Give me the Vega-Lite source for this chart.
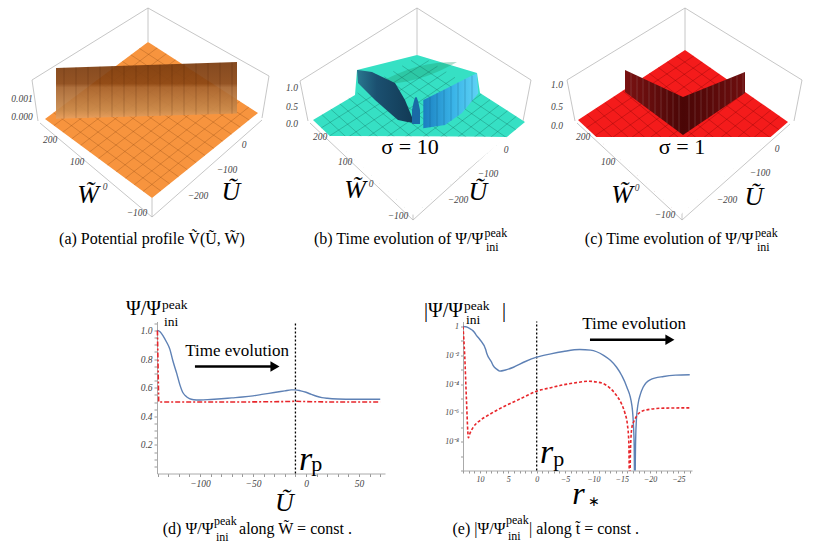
{
  "$schema": "https://vega.github.io/schema/vega-lite/v6.json",
  "padding": 0,
  "background": "white",
  "config": {"view": {"stroke": null}, "font": "Liberation Serif"},
  "datasets": {
    "a_box": [{"x":148,"y":8,"xe":32,"ye":80},{"x":148,"y":8,"xe":269,"ye":76},{"x":148,"y":8,"xe":148,"ye":42},{"x":32,"y":80,"xe":38,"ye":121},{"x":269,"y":76,"xe":262,"ye":118},{"x":40,"y":123,"xe":152,"ye":217},{"x":262,"y":120,"xe":152,"ye":217},{"x":152,"y":198,"xe":152,"ye":217}],
    "a_surf": [{"x":45,"y":119,"yb":119},{"x":148,"y":42,"yb":195.1},{"x":152,"y":44.6,"yb":198},{"x":258,"y":113,"yb":113}],
    "a_mesh": [{"x":53.9,"y":125.6,"xe":157.2,"ye":47.9},{"x":62.8,"y":132.2,"xe":166.3,"ye":53.8},{"x":71.8,"y":138.8,"xe":175.5,"ye":59.8},{"x":80.7,"y":145.3,"xe":184.7,"ye":65.7},{"x":89.6,"y":151.9,"xe":193.8,"ye":71.6},{"x":98.5,"y":158.5,"xe":203,"ye":77.5},{"x":107.4,"y":165.1,"xe":212.2,"ye":83.4},{"x":116.3,"y":171.7,"xe":221.3,"ye":89.3},{"x":125.3,"y":178.3,"xe":230.5,"ye":95.3},{"x":134.2,"y":184.8,"xe":239.7,"ye":101.2},{"x":143.1,"y":191.4,"xe":248.8,"ye":107.1},{"x":53.6,"y":112.6,"xe":160.8,"ye":190.9},{"x":62.2,"y":106.2,"xe":169.7,"ye":183.8},{"x":70.8,"y":99.8,"xe":178.5,"ye":176.8},{"x":79.3,"y":93.3,"xe":187.3,"ye":169.7},{"x":87.9,"y":86.9,"xe":196.2,"ye":162.6},{"x":96.5,"y":80.5,"xe":205,"ye":155.5},{"x":105.1,"y":74.1,"xe":213.8,"ye":148.4},{"x":113.7,"y":67.7,"xe":222.7,"ye":141.3},{"x":122.3,"y":61.3,"xe":231.5,"ye":134.3},{"x":130.8,"y":54.8,"xe":240.3,"ye":127.2},{"x":139.4,"y":48.4,"xe":249.2,"ye":120.1}],
    "a_wall": [{"x":56,"y":68,"yb":118.7},{"x":237,"y":62,"yb":113.6}],
    "a_stripes": [{"x":64,"y":67.7,"xe":64,"ye":118.5},{"x":76,"y":67.3,"xe":76,"ye":118.1},{"x":88,"y":66.9,"xe":88,"ye":117.8},{"x":100,"y":66.5,"xe":100,"ye":117.5},{"x":112,"y":66.1,"xe":112,"ye":117.1},{"x":124,"y":65.7,"xe":124,"ye":116.8},{"x":136,"y":65.4,"xe":136,"ye":116.5},{"x":148,"y":65,"xe":148,"ye":116.1},{"x":160,"y":64.6,"xe":160,"ye":115.8},{"x":172,"y":64.2,"xe":172,"ye":115.5},{"x":184,"y":63.8,"xe":184,"ye":115.1},{"x":196,"y":63.4,"xe":196,"ye":114.8},{"x":208,"y":63,"xe":208,"ye":114.4},{"x":220,"y":62.6,"xe":220,"ye":114.1},{"x":232,"y":62.2,"xe":232,"ye":113.8}],
    "a_ticks": [{"x":22,"y":99,"t":"0.001"},{"x":22,"y":117,"t":"0.000"},{"x":50,"y":140,"t":"200"},{"x":77,"y":162,"t":"100"},{"x":105,"y":187,"t":"0"},{"x":137,"y":213,"t":"−100"},{"x":244,"y":145,"t":"0"},{"x":227,"y":170,"t":"−100"},{"x":198,"y":196,"t":"−200"}],
    "a_letters": [{"x":88,"y":195,"t":"W̃"},{"x":231,"y":192,"t":"Ũ"}],
    "a_cap": [{"x":152,"y":244,"t":"(a) Potential profile Ṽ(Ũ, W̃)"}],

    "b_box": [{"x":145,"y":8,"xe":28,"ye":81},{"x":145,"y":8,"xe":259,"ye":80},{"x":145,"y":8,"xe":145,"ye":55},{"x":28,"y":81,"xe":36,"ye":121},{"x":259,"y":80,"xe":251,"ye":121},{"x":38,"y":123,"xe":141,"ye":220},{"x":247,"y":124,"xe":141,"ye":220},{"x":141,"y":187,"xe":141,"ye":220}],
    "b_surf": [{"x":41,"y":120,"yb":120},{"x":57.8,"y":110,"yb":136},{"x":83,"y":95,"yb":136.2},{"x":85,"y":70,"yb":136.2},{"x":145,"y":55,"yb":136.5},{"x":205,"y":73,"yb":136.8},{"x":208,"y":93,"yb":136.8},{"x":234.9,"y":110.3,"yb":137},{"x":253,"y":122,"yb":122}],
    "b_mesh": [{"x":49.3,"y":127.9,"xe":156.8,"ye":60.6},{"x":57.7,"y":135.8,"xe":165.5,"ye":66.2},{"x":66,"y":143.8,"xe":174.3,"ye":71.8},{"x":74.3,"y":151.7,"xe":183,"ye":77.3},{"x":82.7,"y":159.6,"xe":191.8,"ye":82.9},{"x":91,"y":167.5,"xe":200.5,"ye":88.5},{"x":99.3,"y":175.4,"xe":209.3,"ye":94.1},{"x":107.7,"y":183.3,"xe":218,"ye":99.7},{"x":116,"y":191.3,"xe":226.8,"ye":105.3},{"x":124.3,"y":199.2,"xe":235.5,"ye":110.8},{"x":132.7,"y":207.1,"xe":244.3,"ye":116.4},{"x":49.9,"y":114.6,"xe":150.3,"ye":207.3},{"x":58.8,"y":109.2,"xe":159.7,"ye":199.5},{"x":67.8,"y":103.8,"xe":169,"ye":191.8},{"x":76.7,"y":98.3,"xe":178.3,"ye":184},{"x":85.6,"y":92.9,"xe":187.7,"ye":176.2},{"x":94.5,"y":87.5,"xe":197,"ye":168.5},{"x":103.4,"y":82.1,"xe":206.3,"ye":160.8},{"x":112.3,"y":76.7,"xe":215.7,"ye":153},{"x":121.3,"y":71.3,"xe":225,"ye":145.3},{"x":130.2,"y":65.8,"xe":234.3,"ye":137.5},{"x":139.1,"y":60.4,"xe":243.7,"ye":129.7}],
    "b_mask": [{"x":57.8,"y":136,"yb":136},{"x":141,"y":136.5,"yb":215},{"x":234.9,"y":137,"yb":137}],
    "b_band": [{"x":105,"y":84,"yb":84},{"x":125,"y":74,"yb":83},{"x":165,"y":63,"yb":72},{"x":185,"y":62,"yb":62}],
    "b_ridgeL": [{"x":85,"y":70,"yb":70},{"x":86,"y":70.1,"yb":83},{"x":100,"y":72,"yb":97},{"x":103,"y":73.4,"yb":100},{"x":123,"y":83,"yb":117.4},{"x":126,"y":88.1,"yb":120},{"x":133,"y":100,"yb":121.4},{"x":140,"y":117,"yb":122.8},{"x":141,"y":123,"yb":123}],
    "b_ridgeR": [{"x":151.3,"y":100,"yb":128.3},{"x":173,"y":89.2,"yb":125},{"x":190,"y":80.6,"yb":113},{"x":204.7,"y":73.3,"yb":95.2},{"x":206.3,"y":93.3,"yb":93.3}],
    "b_rstripes": [{"x":158,"y":96.7,"xe":158,"ye":127.3},{"x":165,"y":93.2,"xe":165,"ye":126.2},{"x":172,"y":89.7,"xe":172,"ye":125.2},{"x":179,"y":86.2,"xe":179,"ye":121},{"x":186,"y":82.6,"xe":186,"ye":115.8},{"x":193,"y":79.1,"xe":193,"ye":108.9},{"x":200,"y":75.7,"xe":200,"ye":100.9}],
    "b_bump": [{"x":140,"y":110,"yb":124},{"x":144,"y":97,"yb":124},{"x":148,"y":110,"yb":124}],
    "b_ticks": [{"x":20,"y":88,"t":"1.0"},{"x":20,"y":107,"t":"0.5"},{"x":20,"y":124,"t":"0.0"},{"x":48,"y":137,"t":"200"},{"x":73,"y":162,"t":"100"},{"x":99,"y":184,"t":"0"},{"x":126,"y":216,"t":"−100"},{"x":234,"y":150,"t":"0"},{"x":216,"y":174,"t":"−100"},{"x":186,"y":200,"t":"−200"}],
    "b_letters": [{"x":83,"y":190,"t":"W̃"},{"x":206,"y":192,"t":"Ũ"}],
    "b_sigma": [{"x":138,"y":147,"t":"σ = 10"}],
    "b_cap1": [{"x":211.3,"y":244,"t":"(b) Time evolution of Ψ/Ψ"}],
    "b_cap2": [{"x":212.5,"y":237,"t":"peak"},{"x":214,"y":251,"t":"ini"}],

    "c_box": [{"x":141,"y":8,"xe":23,"ye":80},{"x":141,"y":8,"xe":258,"ye":80},{"x":141,"y":8,"xe":141,"ye":50},{"x":23,"y":80,"xe":31,"ye":121},{"x":258,"y":80,"xe":250,"ye":121},{"x":33,"y":123,"xe":138,"ye":220},{"x":246,"y":124,"xe":138,"ye":220},{"x":138,"y":178,"xe":138,"ye":220}],
    "c_surf": [{"x":34,"y":120,"yb":120},{"x":52.3,"y":108,"yb":137},{"x":141,"y":50,"yb":137},{"x":226.6,"y":109.8,"yb":137},{"x":244,"y":122,"yb":122}],
    "c_mesh": [{"x":42.5,"y":127.9,"xe":149.6,"ye":56},{"x":51,"y":135.8,"xe":158.2,"ye":62},{"x":59.5,"y":143.8,"xe":166.8,"ye":68},{"x":68,"y":151.7,"xe":175.3,"ye":74},{"x":76.5,"y":159.6,"xe":183.9,"ye":80},{"x":85,"y":167.5,"xe":192.5,"ye":86},{"x":93.5,"y":175.4,"xe":201.1,"ye":92},{"x":102,"y":183.3,"xe":209.7,"ye":98},{"x":110.5,"y":191.3,"xe":218.3,"ye":104},{"x":119,"y":199.2,"xe":226.8,"ye":110},{"x":127.5,"y":207.1,"xe":235.4,"ye":116},{"x":42.9,"y":114.2,"xe":145,"ye":207.3},{"x":51.8,"y":108.3,"xe":154,"ye":199.5},{"x":60.8,"y":102.5,"xe":163,"ye":191.8},{"x":69.7,"y":96.7,"xe":172,"ye":184},{"x":78.6,"y":90.8,"xe":181,"ye":176.2},{"x":87.5,"y":85,"xe":190,"ye":168.5},{"x":96.4,"y":79.2,"xe":199,"ye":160.8},{"x":105.3,"y":73.3,"xe":208,"ye":153},{"x":114.3,"y":67.5,"xe":217,"ye":145.3},{"x":123.2,"y":61.7,"xe":226,"ye":137.5},{"x":132.1,"y":55.8,"xe":235,"ye":129.7}],
    "c_mask": [{"x":52.3,"y":137,"yb":137},{"x":136,"y":137,"yb":215},{"x":226.6,"y":137,"yb":137}],
    "c_wallL": [{"x":81,"y":70,"yb":92},{"x":139,"y":97,"yb":135}],
    "c_wallR": [{"x":139,"y":97,"yb":135},{"x":201,"y":72,"yb":93}],
    "c_stripes": [{"x":87,"y":72.8,"xe":87,"ye":96.4},{"x":93,"y":75.6,"xe":93,"ye":100.9},{"x":99,"y":78.4,"xe":99,"ye":105.3},{"x":105,"y":81.2,"xe":105,"ye":109.8},{"x":111,"y":84,"xe":111,"ye":114.2},{"x":117,"y":86.8,"xe":117,"ye":118.7},{"x":123,"y":89.6,"xe":123,"ye":123.1},{"x":129,"y":92.3,"xe":129,"ye":127.6},{"x":135,"y":95.1,"xe":135,"ye":132},{"x":145,"y":94.6,"xe":145,"ye":130.9},{"x":151,"y":92.2,"xe":151,"ye":126.9},{"x":157,"y":89.7,"xe":157,"ye":122.8},{"x":163,"y":87.3,"xe":163,"ye":118.7},{"x":169,"y":84.9,"xe":169,"ye":114.7},{"x":175,"y":82.5,"xe":175,"ye":110.6},{"x":181,"y":80.1,"xe":181,"ye":106.5},{"x":187,"y":77.6,"xe":187,"ye":102.5},{"x":193,"y":75.2,"xe":193,"ye":98.4},{"x":199,"y":72.8,"xe":199,"ye":94.4}],
    "c_ticks": [{"x":13,"y":85,"t":"1.0"},{"x":13,"y":107,"t":"0.5"},{"x":13,"y":126,"t":"0.0"},{"x":39,"y":137,"t":"200"},{"x":64,"y":162,"t":"100"},{"x":93,"y":188,"t":"0"},{"x":121,"y":215,"t":"−100"},{"x":233,"y":149,"t":"0"},{"x":216,"y":173,"t":"−100"},{"x":183,"y":200,"t":"−200"}],
    "c_letters": [{"x":78,"y":195,"t":"W̃"},{"x":210,"y":197,"t":"Ũ"}],
    "c_sigma": [{"x":138,"y":147,"t":"σ = 1"}],
    "c_cap1": [{"x":209.3,"y":244,"t":"(c) Time evolution of Ψ/Ψ"}],
    "c_cap2": [{"x":211,"y":237,"t":"peak"},{"x":213,"y":251,"t":"ini"}],

    "d_inv": [{"x":-140.6,"y":1.063,"y2":1.28}],
    "d_blue": [{"x":-140.6,"y":1.0},{"x":-139,"y":0.998},{"x":-137.5,"y":0.99},{"x":-135,"y":0.965},{"x":-132,"y":0.925},{"x":-128.5,"y":0.87},{"x":-125.7,"y":0.79},{"x":-122,"y":0.70},{"x":-119,"y":0.62},{"x":-116.5,"y":0.57},{"x":-114,"y":0.545},{"x":-110,"y":0.523},{"x":-106,"y":0.516},{"x":-100,"y":0.514},{"x":-90,"y":0.518},{"x":-80,"y":0.523},{"x":-70,"y":0.529},{"x":-60,"y":0.535},{"x":-50,"y":0.543},{"x":-40,"y":0.555},{"x":-30,"y":0.566},{"x":-20,"y":0.578},{"x":-14,"y":0.585},{"x":-10,"y":0.585},{"x":-5,"y":0.578},{"x":0,"y":0.568},{"x":5,"y":0.553},{"x":10,"y":0.54},{"x":15,"y":0.531},{"x":20,"y":0.526},{"x":30,"y":0.521},{"x":45,"y":0.519},{"x":70,"y":0.519}],
    "d_red": [{"x":-140.2,"y":1.0},{"x":-139.6,"y":0.75},{"x":-139,"y":0.5},{"x":-120,"y":0.5},{"x":-60,"y":0.5},{"x":-20,"y":0.503},{"x":-10,"y":0.505},{"x":0,"y":0.503},{"x":20,"y":0.5},{"x":70,"y":0.5}],
    "d_rule": [{"x":-10,"y":0,"y2":1.063}],
    "d_arrow": [{"x":-104.8,"x2":-31,"y":0.748}],
    "d_head": [{"x":-29.3,"y":0.748}],
    "d_te": [{"x":-65.1,"y":0.86,"t":"Time evolution"}],
    "d_r": [{"x":-6.6,"y":0.021,"t":"r"}],
    "d_p": [{"x":5,"y":0.014,"t":"p"}],
    "d_yt1": [{"x":-136.8,"y":1.105,"t":"Ψ/Ψ"}],
    "d_yt2": [{"x":-135.9,"y":1.152,"t":"peak"},{"x":-134,"y":1.03,"t":"ini"}],
    "d_cap1": [{"x":-87.3,"y":-0.42,"t":"(d) Ψ/Ψ"}],
    "d_cap2": [{"x":-86.8,"y":-0.357,"t":"peak"},{"x":-84.9,"y":-0.469,"t":"ini"}],
    "d_cap3": [{"x":-63.2,"y":-0.42,"t":"along W̃ = const ."}],

    "e_blue": [{"x":13.0,"y":1},{"x":12.5,"y":0.955},{"x":12.0,"y":0.794},{"x":11.0,"y":0.40},{"x":10.6,"y":0.234},{"x":10.0,"y":0.12},{"x":9.0,"y":0.0251},{"x":8.8,"y":0.0132},{"x":8.0,"y":0.00355},{"x":7.7,"y":0.002},{"x":7.0,"y":0.00105},{"x":6.5,"y":0.000794},{"x":5.5,"y":0.00095},{"x":4.1,"y":0.00148},{"x":2.0,"y":0.0037},{"x":0,"y":0.00741},{"x":-2.5,"y":0.0126},{"x":-4.7,"y":0.0182},{"x":-7.6,"y":0.0251},{"x":-9.5,"y":0.0229},{"x":-11.8,"y":0.01},{"x":-13.0,"y":0.0045},{"x":-14.1,"y":0.00148},{"x":-15.0,"y":0.000398},{"x":-15.9,"y":0.000063},{"x":-16.8,"y":3.16e-6},{"x":-17.05,"y":2e-7},{"x":-17.2,"y":5e-9},{"x":-17.3,"y":1e-12},{"x":-17.45,"y":1e-8},{"x":-17.6,"y":4e-7},{"x":-17.9,"y":4.5e-6},{"x":-18.3,"y":0.00002},{"x":-18.8,"y":0.000063},{"x":-20,"y":0.0002},{"x":-22.4,"y":0.00034},{"x":-24.5,"y":0.00042},{"x":-27,"y":0.00045}],
    "e_red": [{"x":13.0,"y":1},{"x":12.7,"y":0.01},{"x":12.4,"y":1e-5},{"x":12.15,"y":5e-8},{"x":12.06,"y":1.86e-8},{"x":11.8,"y":3.55e-8},{"x":11.2,"y":1e-7},{"x":10.0,"y":2.95e-7},{"x":8.5,"y":7.08e-7},{"x":7.1,"y":1.48e-6},{"x":5.5,"y":3.16e-6},{"x":4.1,"y":5.62e-6},{"x":2.0,"y":1.41e-5},{"x":0,"y":3.24e-5},{"x":-2.5,"y":5.62e-5},{"x":-4.7,"y":8.91e-5},{"x":-7.0,"y":1.26e-4},{"x":-9.2,"y":1.58e-4},{"x":-10.5,"y":1.41e-4},{"x":-11.8,"y":1.05e-4},{"x":-13.0,"y":5.01e-5},{"x":-14.1,"y":1.58e-5},{"x":-15.0,"y":3.98e-6},{"x":-15.6,"y":8.71e-7},{"x":-16.0,"y":1.58e-7},{"x":-16.25,"y":1e-8},{"x":-16.4,"y":1e-12},{"x":-16.55,"y":3.16e-9},{"x":-16.8,"y":1e-7},{"x":-17.2,"y":2.82e-7},{"x":-17.7,"y":6.61e-7},{"x":-18.5,"y":1.26e-6},{"x":-19.4,"y":1.62e-6},{"x":-22.4,"y":2.14e-6},{"x":-27,"y":2.24e-6}],
    "e_rule": [{"x":0,"y":1e-10,"y2":2.22}],
    "e_arrow": [{"x":-9.4,"x2":-22.8,"y":0.12}],
    "e_head": [{"x":-23.5,"y":0.12}],
    "e_te": [{"x":-17.2,"y":1.4,"t":"Time evolution"}],
    "e_r": [{"x":-0.58,"y":3.1e-10,"t":"r"}],
    "e_p": [{"x":-2.9,"y":1.9e-10,"t":"p"}],
    "e_star": [{"x":-9.1,"y":6e-13,"t":"∗"}],
    "e_yt1": [{"x":13.0,"y":4.22,"t":"|Ψ/Ψ"}],
    "e_yt2": [{"x":12.82,"y":14.5,"t":"peak"},{"x":12.47,"y":1.6,"t":"ini"}],
    "e_yt3": [{"x":6.1,"y":4.22,"t":"|"}],
    "e_cap1": [{"x":5.5,"y":4.2e-15,"t":"(e) |Ψ/Ψ"}],
    "e_cap2": [{"x":5.41,"y":1.78e-14,"t":"peak"},{"x":5.06,"y":1.38e-15,"t":"ini"}],
    "e_cap3": [{"x":1.36,"y":4.2e-15,"t":"| along t̃ = const ."}]
  },
  "spacing": 27.5,
  "vconcat": [
    {
      "hconcat": [
        {
          "width": 272, "height": 262,
          "encoding": {
            "x": {"field": "x", "type": "quantitative", "scale": {"domain": [0, 272], "nice": false, "zero": false}, "axis": null},
            "y": {"field": "y", "type": "quantitative", "scale": {"domain": [0, 262], "nice": false, "zero": false, "reverse": true}, "axis": null}
          },
          "layer": [
            {"data": {"name": "a_box"}, "mark": {"type": "rule", "color": "#b8b8b8", "strokeWidth": 0.8}, "encoding": {"x2": {"field": "xe"}, "y2": {"field": "ye"}}},
            {"data": {"name": "a_surf"}, "mark": {"type": "area", "color": "#f7943e"}, "encoding": {"y2": {"field": "yb"}}},
            {"data": {"name": "a_mesh"}, "mark": {"type": "rule", "color": "#7a3d0c", "strokeWidth": 0.6, "opacity": 0.45}, "encoding": {"x2": {"field": "xe"}, "y2": {"field": "ye"}}},
            {"data": {"name": "a_wall"}, "mark": {"type": "area", "opacity": 0.93, "color": {"gradient": "linear", "x1": 0, "y1": 0, "x2": 0, "y2": 1, "stops": [{"offset": 0, "color": "#7b3c0f"}, {"offset": 0.38, "color": "#8c4714"}, {"offset": 0.45, "color": "#a8652f"}, {"offset": 0.85, "color": "#c98a4c"}, {"offset": 1, "color": "#e8a060"}]}}, "encoding": {"y2": {"field": "yb"}}},
            {"data": {"name": "a_stripes"}, "mark": {"type": "rule", "color": "#3a1a05", "strokeWidth": 0.6, "opacity": 0.35}, "encoding": {"x2": {"field": "xe"}, "y2": {"field": "ye"}}},
            {"data": {"name": "a_ticks"}, "mark": {"type": "text", "font": "Liberation Serif", "fontStyle": "italic", "fontSize": 9.5, "color": "#444"}, "encoding": {"text": {"field": "t"}}},
            {"data": {"name": "a_letters"}, "mark": {"type": "text", "font": "Liberation Serif", "fontStyle": "italic", "fontSize": 26, "color": "black"}, "encoding": {"text": {"field": "t"}}},
            {"data": {"name": "a_cap"}, "mark": {"type": "text", "font": "Liberation Serif", "fontSize": 16, "baseline": "alphabetic", "color": "black"}, "encoding": {"text": {"field": "t"}}}
          ]
        },
        {
          "width": 272, "height": 262,
          "encoding": {
            "x": {"field": "x", "type": "quantitative", "scale": {"domain": [0, 272], "nice": false, "zero": false}, "axis": null},
            "y": {"field": "y", "type": "quantitative", "scale": {"domain": [0, 262], "nice": false, "zero": false, "reverse": true}, "axis": null}
          },
          "layer": [
            {"data": {"name": "b_box"}, "mark": {"type": "rule", "color": "#b8b8b8", "strokeWidth": 0.8}, "encoding": {"x2": {"field": "xe"}, "y2": {"field": "ye"}}},
            {"data": {"name": "b_surf"}, "mark": {"type": "area", "color": "#36e0c4"}, "encoding": {"y2": {"field": "yb"}}},
            {"data": {"name": "b_band"}, "mark": {"type": "area", "color": "#1e9a6e", "opacity": 0.35, "interpolate": "monotone"}, "encoding": {"y2": {"field": "yb"}}},
            {"data": {"name": "b_mesh"}, "mark": {"type": "rule", "color": "#0c5a4c", "strokeWidth": 0.6, "opacity": 0.5}, "encoding": {"x2": {"field": "xe"}, "y2": {"field": "ye"}}},
            {"data": {"name": "b_mask"}, "mark": {"type": "area", "color": "white"}, "encoding": {"y2": {"field": "yb"}}},
            {"data": {"name": "b_ridgeL"}, "mark": {"type": "area", "color": {"gradient": "linear", "x1": 0, "y1": 0, "x2": 1, "y2": 0, "stops": [{"offset": 0, "color": "#2a7890"}, {"offset": 0.35, "color": "#1b5070"}, {"offset": 1, "color": "#123a55"}]}}, "encoding": {"y2": {"field": "yb"}}},
            {"data": {"name": "b_ridgeR"}, "mark": {"type": "area", "color": {"gradient": "linear", "x1": 0, "y1": 0, "x2": 1, "y2": 0, "stops": [{"offset": 0, "color": "#1a7fc0"}, {"offset": 0.55, "color": "#3ab4e8"}, {"offset": 1, "color": "#5fd3f5"}]}}, "encoding": {"y2": {"field": "yb"}}},
            {"data": {"name": "b_rstripes"}, "mark": {"type": "rule", "color": "#0d4a70", "strokeWidth": 0.6, "opacity": 0.45}, "encoding": {"x2": {"field": "xe"}, "y2": {"field": "ye"}}},
            {"data": {"name": "b_bump"}, "mark": {"type": "area", "color": "#1a6aa6", "interpolate": "monotone"}, "encoding": {"y2": {"field": "yb"}}},
            {"data": {"name": "b_ticks"}, "mark": {"type": "text", "font": "Liberation Serif", "fontStyle": "italic", "fontSize": 9.5, "color": "#444"}, "encoding": {"text": {"field": "t"}}},
            {"data": {"name": "b_letters"}, "mark": {"type": "text", "font": "Liberation Serif", "fontStyle": "italic", "fontSize": 26, "color": "black"}, "encoding": {"text": {"field": "t"}}},
            {"data": {"name": "b_sigma"}, "mark": {"type": "text", "font": "Liberation Serif", "fontSize": 22, "color": "black"}, "encoding": {"text": {"field": "t"}}},
            {"data": {"name": "b_cap1"}, "mark": {"type": "text", "font": "Liberation Serif", "fontSize": 16, "align": "right", "baseline": "alphabetic", "color": "black"}, "encoding": {"text": {"field": "t"}}},
            {"data": {"name": "b_cap2"}, "mark": {"type": "text", "font": "Liberation Serif", "fontSize": 12, "align": "left", "baseline": "alphabetic", "color": "black"}, "encoding": {"text": {"field": "t"}}}
          ]
        },
        {
          "width": 273, "height": 262,
          "encoding": {
            "x": {"field": "x", "type": "quantitative", "scale": {"domain": [0, 273], "nice": false, "zero": false}, "axis": null},
            "y": {"field": "y", "type": "quantitative", "scale": {"domain": [0, 262], "nice": false, "zero": false, "reverse": true}, "axis": null}
          },
          "layer": [
            {"data": {"name": "c_box"}, "mark": {"type": "rule", "color": "#b8b8b8", "strokeWidth": 0.8}, "encoding": {"x2": {"field": "xe"}, "y2": {"field": "ye"}}},
            {"data": {"name": "c_surf"}, "mark": {"type": "area", "color": "#f41b1b"}, "encoding": {"y2": {"field": "yb"}}},
            {"data": {"name": "c_mesh"}, "mark": {"type": "rule", "color": "#700000", "strokeWidth": 0.6, "opacity": 0.5}, "encoding": {"x2": {"field": "xe"}, "y2": {"field": "ye"}}},
            {"data": {"name": "c_mask"}, "mark": {"type": "area", "color": "white"}, "encoding": {"y2": {"field": "yb"}}},
            {"data": {"name": "c_wallL"}, "mark": {"type": "area", "color": {"gradient": "linear", "x1": 0, "y1": 0, "x2": 1, "y2": 0, "stops": [{"offset": 0, "color": "#7a1212"}, {"offset": 1, "color": "#4a0606"}]}}, "encoding": {"y2": {"field": "yb"}}},
            {"data": {"name": "c_wallR"}, "mark": {"type": "area", "color": {"gradient": "linear", "x1": 0, "y1": 0, "x2": 1, "y2": 0, "stops": [{"offset": 0, "color": "#4a0606"}, {"offset": 1, "color": "#6e0e0e"}]}}, "encoding": {"y2": {"field": "yb"}}},
            {"data": {"name": "c_stripes"}, "mark": {"type": "rule", "color": "#a08080", "strokeWidth": 0.6, "opacity": 0.5}, "encoding": {"x2": {"field": "xe"}, "y2": {"field": "ye"}}},
            {"data": {"name": "c_ticks"}, "mark": {"type": "text", "font": "Liberation Serif", "fontStyle": "italic", "fontSize": 9.5, "color": "#444"}, "encoding": {"text": {"field": "t"}}},
            {"data": {"name": "c_letters"}, "mark": {"type": "text", "font": "Liberation Serif", "fontStyle": "italic", "fontSize": 26, "color": "black"}, "encoding": {"text": {"field": "t"}}},
            {"data": {"name": "c_sigma"}, "mark": {"type": "text", "font": "Liberation Serif", "fontSize": 22, "color": "black"}, "encoding": {"text": {"field": "t"}}},
            {"data": {"name": "c_cap1"}, "mark": {"type": "text", "font": "Liberation Serif", "fontSize": 16, "align": "right", "baseline": "alphabetic", "color": "black"}, "encoding": {"text": {"field": "t"}}},
            {"data": {"name": "c_cap2"}, "mark": {"type": "text", "font": "Liberation Serif", "fontSize": 12, "align": "left", "baseline": "alphabetic", "color": "black"}, "encoding": {"text": {"field": "t"}}}
          ]
        }
      ],
      "spacing": 0,
      "bounds": "flush"
    },
    {
      "hconcat": [
        {"width": 79, "height": 152, "data": {"values": []}, "mark": {"type": "point"}, "encoding": {}},
        {
          "width": 228, "height": 152,
          "encoding": {
            "x": {"field": "x", "type": "quantitative", "scale": {"domain": [-140.6, 74.5], "nice": false, "zero": false},
              "axis": {"values": [-140,-130,-120,-110,-100,-90,-80,-70,-60,-50,-40,-30,-20,-10,0,10,20,30,40,50,60,70],
                "labelExpr": "datum.value % 50 === 0 ? datum.label : ''", "labelOverlap": false, "labelFlush": false,
                "labelFont": "Liberation Serif", "labelFontStyle": "italic", "labelFontSize": 9.5, "labelColor": "#444", "labelPadding": 2,
                "tickSize": 3, "tickColor": "#999", "domainColor": "#aaa", "grid": false,
                "title": "Ũ", "titleFont": "Liberation Serif", "titleFontStyle": "italic", "titleFontWeight": "normal", "titleFontSize": 26, "titleColor": "black",
                "titleX": 127, "titleY": 37, "titleBaseline": "alphabetic", "titleAlign": "center"}},
            "y": {"field": "y", "type": "quantitative", "scale": {"domain": [0, 1.063], "nice": false, "zero": false},
              "axis": {"values": [0.05,0.1,0.15,0.2,0.25,0.3,0.35,0.4,0.45,0.5,0.55,0.6,0.65,0.7,0.75,0.8,0.85,0.9,0.95,1.0,1.05],
                "labelExpr": "abs(datum.value*5 - round(datum.value*5)) < 0.01 ? format(datum.value, '.1f') : ''", "labelOverlap": false, "labelFlush": false,
                "labelFont": "Liberation Serif", "labelFontStyle": "italic", "labelFontSize": 9.5, "labelColor": "#444", "labelPadding": 2,
                "tickSize": 3, "tickColor": "#999", "domainColor": "#aaa", "grid": false, "title": null}}
          },
          "layer": [
            {"data": {"name": "d_inv"}, "mark": {"type": "rule", "color": "white", "strokeWidth": 1, "opacity": 0}, "encoding": {"y2": {"field": "y2"}}},
            {"data": {"name": "d_rule"}, "mark": {"type": "rule", "color": "black", "strokeDash": [2, 2], "strokeWidth": 1.3}, "encoding": {"y2": {"field": "y2"}}},
            {"data": {"name": "d_blue"}, "mark": {"type": "line", "color": "#5e81b5", "strokeWidth": 1.4, "interpolate": "monotone"}},
            {"data": {"name": "d_red"}, "mark": {"type": "line", "color": "#e8262b", "strokeWidth": 1.6, "strokeDash": [5, 2, 2, 2]}},
            {"data": {"name": "d_arrow"}, "mark": {"type": "rule", "color": "black", "strokeWidth": 2.5}, "encoding": {"x2": {"field": "x2"}}},
            {"data": {"name": "d_head"}, "mark": {"type": "point", "shape": "triangle-right", "filled": true, "color": "black", "size": 110, "opacity": 1}},
            {"data": {"name": "d_te"}, "mark": {"type": "text", "font": "Liberation Serif", "fontSize": 17, "color": "black"}, "encoding": {"text": {"field": "t"}}},
            {"data": {"name": "d_r"}, "mark": {"type": "text", "font": "Liberation Serif", "fontStyle": "italic", "fontSize": 34, "align": "left", "baseline": "alphabetic", "color": "black"}, "encoding": {"text": {"field": "t"}}},
            {"data": {"name": "d_p"}, "mark": {"type": "text", "font": "Liberation Serif", "fontSize": 22, "align": "left", "baseline": "alphabetic", "color": "black"}, "encoding": {"text": {"field": "t"}}},
            {"data": {"name": "d_yt1"}, "mark": {"type": "text", "font": "Liberation Serif", "fontSize": 20, "align": "right", "baseline": "alphabetic", "color": "black"}, "encoding": {"text": {"field": "t"}}},
            {"data": {"name": "d_yt2"}, "mark": {"type": "text", "font": "Liberation Serif", "fontSize": 13.5, "align": "left", "baseline": "alphabetic", "color": "black"}, "encoding": {"text": {"field": "t"}}},
            {"data": {"name": "d_cap1"}, "mark": {"type": "text", "font": "Liberation Serif", "fontSize": 16, "align": "right", "baseline": "alphabetic", "color": "black"}, "encoding": {"text": {"field": "t"}}},
            {"data": {"name": "d_cap2"}, "mark": {"type": "text", "font": "Liberation Serif", "fontSize": 12, "align": "left", "baseline": "alphabetic", "color": "black"}, "encoding": {"text": {"field": "t"}}},
            {"data": {"name": "d_cap3"}, "mark": {"type": "text", "font": "Liberation Serif", "fontSize": 16, "align": "left", "baseline": "alphabetic", "color": "black"}, "encoding": {"text": {"field": "t"}}}
          ]
        },
        {
          "width": 229, "height": 149,
          "encoding": {
            "x": {"field": "x", "type": "quantitative", "scale": {"domain": [-27.4, 13.0], "reverse": true, "nice": false, "zero": false},
              "axis": {"values": [13,12,11,10,9,8,7,6,5,4,3,2,1,0,-1,-2,-3,-4,-5,-6,-7,-8,-9,-10,-11,-12,-13,-14,-15,-16,-17,-18,-19,-20,-21,-22,-23,-24,-25,-26,-27],
                "labelExpr": "datum.value % 5 === 0 ? datum.label : ''", "labelOverlap": false, "labelFlush": false,
                "labelFont": "Liberation Serif", "labelFontStyle": "italic", "labelFontSize": 8, "labelColor": "#444", "labelPadding": 2,
                "tickSize": 2.5, "tickColor": "#999", "domainColor": "#aaa", "grid": false,
                "title": "r", "titleFont": "Liberation Serif", "titleFontStyle": "italic", "titleFontWeight": "normal", "titleFontSize": 32, "titleColor": "black",
                "titleX": 115, "titleY": 33, "titleBaseline": "alphabetic", "titleAlign": "center"}},
            "y": {"field": "y", "type": "quantitative", "scale": {"type": "log", "domain": [1e-10, 2.22], "nice": false},
              "axis": {"values": [1e-10,1e-9,1e-8,1e-7,1e-6,1e-5,1e-4,1e-3,1e-2,1e-1,1],
                "labelExpr": "datum.value > 0.5 ? '1' : (abs(datum.value/1e-2 - 1) < 0.01 ? '10⁻²' : (abs(datum.value/1e-4 - 1) < 0.01 ? '10⁻⁴' : (abs(datum.value/1e-6 - 1) < 0.01 ? '10⁻⁶' : (abs(datum.value/1e-8 - 1) < 0.01 ? '10⁻⁸' : ''))))",
                "labelOverlap": false, "labelFlush": false,
                "labelFont": "Liberation Serif", "labelFontStyle": "italic", "labelFontSize": 8, "labelColor": "#444", "labelPadding": 2,
                "tickSize": 2.5, "tickColor": "#999", "domainColor": "#aaa", "grid": false, "title": null}}
          },
          "layer": [
            {"data": {"name": "e_rule"}, "mark": {"type": "rule", "color": "black", "strokeDash": [2, 2], "strokeWidth": 1.3}, "encoding": {"y2": {"field": "y2"}}},
            {"data": {"name": "e_blue"}, "mark": {"type": "line", "color": "#5e81b5", "strokeWidth": 1.4, "interpolate": "monotone", "clip": true}, "encoding": {"order": {"field": "x", "sort": "descending"}}},
            {"data": {"name": "e_red"}, "mark": {"type": "line", "color": "#e8262b", "strokeWidth": 1.6, "strokeDash": [3, 2], "interpolate": "monotone", "clip": true}, "encoding": {"order": {"field": "x", "sort": "descending"}}},
            {"data": {"name": "e_arrow"}, "mark": {"type": "rule", "color": "black", "strokeWidth": 2.5}, "encoding": {"x2": {"field": "x2"}}},
            {"data": {"name": "e_head"}, "mark": {"type": "point", "shape": "triangle-right", "filled": true, "color": "black", "size": 110, "opacity": 1}},
            {"data": {"name": "e_te"}, "mark": {"type": "text", "font": "Liberation Serif", "fontSize": 17, "color": "black"}, "encoding": {"text": {"field": "t"}}},
            {"data": {"name": "e_r"}, "mark": {"type": "text", "font": "Liberation Serif", "fontStyle": "italic", "fontSize": 34, "align": "left", "baseline": "alphabetic", "color": "black"}, "encoding": {"text": {"field": "t"}}},
            {"data": {"name": "e_p"}, "mark": {"type": "text", "font": "Liberation Serif", "fontSize": 22, "align": "left", "baseline": "alphabetic", "color": "black"}, "encoding": {"text": {"field": "t"}}},
            {"data": {"name": "e_star"}, "mark": {"type": "text", "font": "DejaVu Sans", "fontSize": 14, "align": "left", "baseline": "middle", "color": "black"}, "encoding": {"text": {"field": "t"}}},
            {"data": {"name": "e_yt1"}, "mark": {"type": "text", "font": "Liberation Serif", "fontSize": 20, "align": "right", "baseline": "alphabetic", "color": "black"}, "encoding": {"text": {"field": "t"}}},
            {"data": {"name": "e_yt2"}, "mark": {"type": "text", "font": "Liberation Serif", "fontSize": 13.5, "align": "left", "baseline": "alphabetic", "color": "black"}, "encoding": {"text": {"field": "t"}}},
            {"data": {"name": "e_yt3"}, "mark": {"type": "text", "font": "Liberation Serif", "fontSize": 20, "align": "left", "baseline": "alphabetic", "color": "black"}, "encoding": {"text": {"field": "t"}}},
            {"data": {"name": "e_cap1"}, "mark": {"type": "text", "font": "Liberation Serif", "fontSize": 16, "align": "right", "baseline": "alphabetic", "color": "black"}, "encoding": {"text": {"field": "t"}}},
            {"data": {"name": "e_cap2"}, "mark": {"type": "text", "font": "Liberation Serif", "fontSize": 12, "align": "left", "baseline": "alphabetic", "color": "black"}, "encoding": {"text": {"field": "t"}}},
            {"data": {"name": "e_cap3"}, "mark": {"type": "text", "font": "Liberation Serif", "fontSize": 16, "align": "left", "baseline": "alphabetic", "color": "black"}, "encoding": {"text": {"field": "t"}}}
          ]
        }
      ],
      "spacing": 78,
      "bounds": "flush"
    }
  ]
}
